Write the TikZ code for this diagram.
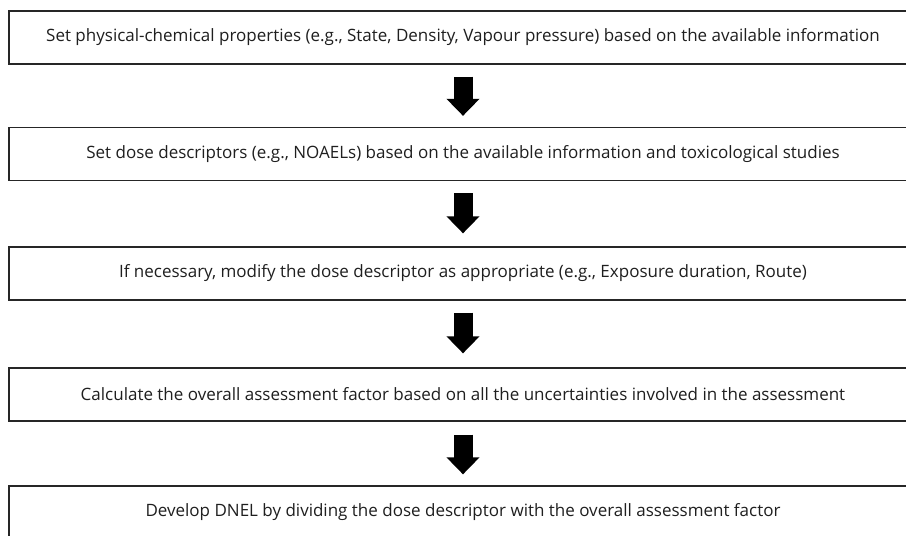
\documentclass[tikz,border=0pt]{standalone}
\usepackage{fontspec}
\setmainfont{Open Sans}
\usetikzlibrary{arrows.meta}
\begin{document}
\begin{tikzpicture}[x=1pt,y=-1pt,
  stepbox/.style={draw=black!85, line width=1.3pt, fill=white, minimum width=908pt, minimum height=53pt, inner sep=0pt, text=black!88, font=\fontsize{17}{20}\selectfont},
  bigarrow/.style={draw=black, line width=19pt, -{Triangle[width=32pt,length=17pt]}}]
\useasboundingbox (0,0) rectangle (906,536);
\clip (0,0) rectangle (906,536);
\fill[white] (0,0) rectangle (906,536);
\node[stepbox] (b1) at (463,37.5) {Set physical-chemical properties (e.g., State, Density, Vapour pressure) based on the available information};
\node[stepbox] (b2) at (463,154) {Set dose descriptors (e.g., NOAELs) based on the available information and toxicological studies};
\node[stepbox] (b3) at (463,273.5) {If necessary, modify the dose descriptor as appropriate (e.g., Exposure duration, Route)};
\node[stepbox] (b4) at (463,394.5) {Calculate the overall assessment factor based on all the uncertainties involved in the assessment};
\node[stepbox] (b5) at (463,512.5) {Develop DNEL by dividing the dose descriptor with the overall assessment factor};
\draw[bigarrow] ([yshift=-12pt]b1.south) -- ([yshift=11pt]b2.north);
\draw[bigarrow] ([yshift=-12pt]b2.south) -- ([yshift=13pt]b3.north);
\draw[bigarrow] ([yshift=-12pt]b3.south) -- ([yshift=14pt]b4.north);
\draw[bigarrow] ([yshift=-13pt]b4.south) -- ([yshift=11pt]b5.north);
\end{tikzpicture}
\end{document}
